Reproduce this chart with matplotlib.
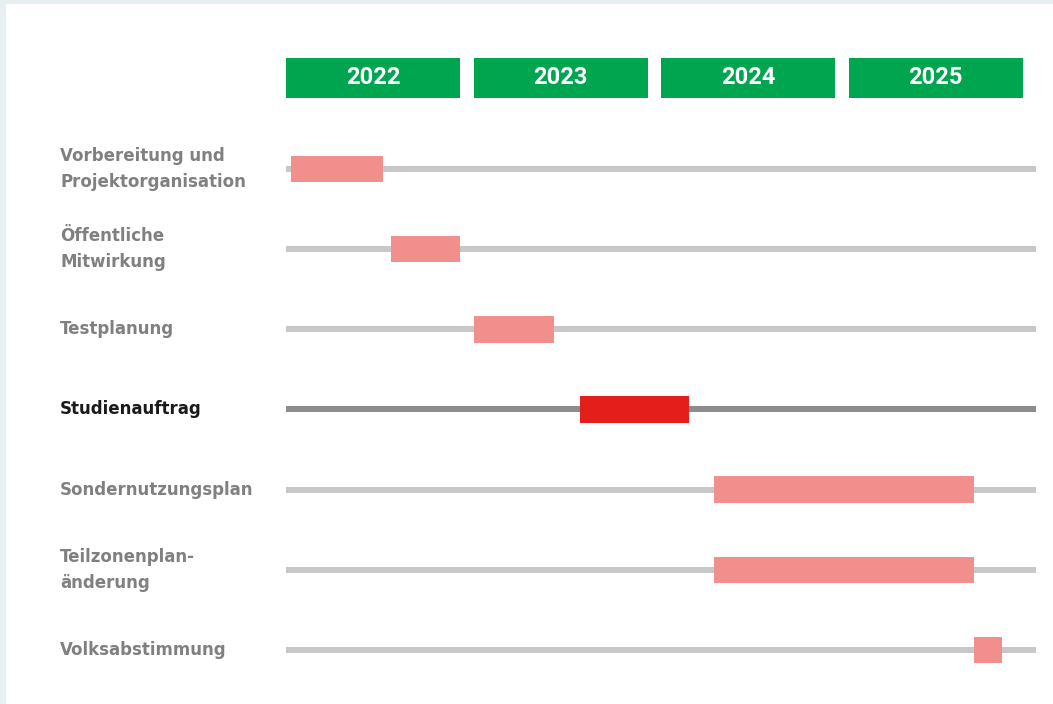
import matplotlib.pyplot as plt
from matplotlib.patches import Rectangle
from matplotlib.transforms import blended_transform_factory

# phases of the project (start / end as fractional years)
phases = ["Vorbereitung und\nProjektorganisation", "Öffentliche\nMitwirkung",
          "Testplanung", "Studienauftrag", "Sondernutzungsplan",
          "Teilzonenplan-\nänderung", "Volksabstimmung"]
starts = [2022.025, 2022.56, 2023.0, 2023.57, 2024.28, 2024.28, 2025.67]
ends = [2022.52, 2022.93, 2023.43, 2024.15, 2025.67, 2025.67, 2025.82]
highlight = "Studienauftrag"
years = [2022, 2023, 2024, 2025]

fig = plt.figure(figsize=(10.53, 7.04), dpi=100, facecolor="#e8eff1")
fig.patches.append(Rectangle((6 / 1053, 0), 1, 1 - 4 / 704, transform=fig.transFigure,
                             facecolor="white", edgecolor="none", zorder=-1))

ax = fig.add_axes([286 / 1053, 1 - 690 / 704, 750 / 1053, 650 / 704])
ax.set_xlim(2022, 2026)
ax.set_ylim(6.499, -1.609)
ax.axis("off")

# year header boxes
ax.barh([-1.135] * len(years), [0.928] * len(years), left=years, height=0.5,
        align="center", color="#00a54f", zorder=2)
for y in years:
    ax.text(y + 0.464, -1.135, str(y), ha="center", va="center", color="white",
            fontsize=17, fontweight="bold", family="Roboto", zorder=3)

trans = blended_transform_factory(fig.transFigure, ax.transData)
for i, name in enumerate(phases):
    hl = name == highlight
    line_c = "#8c8c8c" if hl else "#c8c8c8"
    bar_c = "#e31e1b" if hl else "#f08f8c"
    ax.barh(i, 4, left=2022, height=0.075, color=line_c, zorder=1)
    ax.barh(i, ends[i] - starts[i], left=starts[i], height=0.33, color=bar_c, zorder=2)
    ax.text(60 / 1053, i, name, transform=trans, ha="left", va="center",
            color="#1a1a1a" if hl else "#808080", fontsize=12, fontweight="bold",
            family="DejaVu Sans", linespacing=1.6)

fig.savefig("out.png", dpi=100, facecolor=fig.get_facecolor())
